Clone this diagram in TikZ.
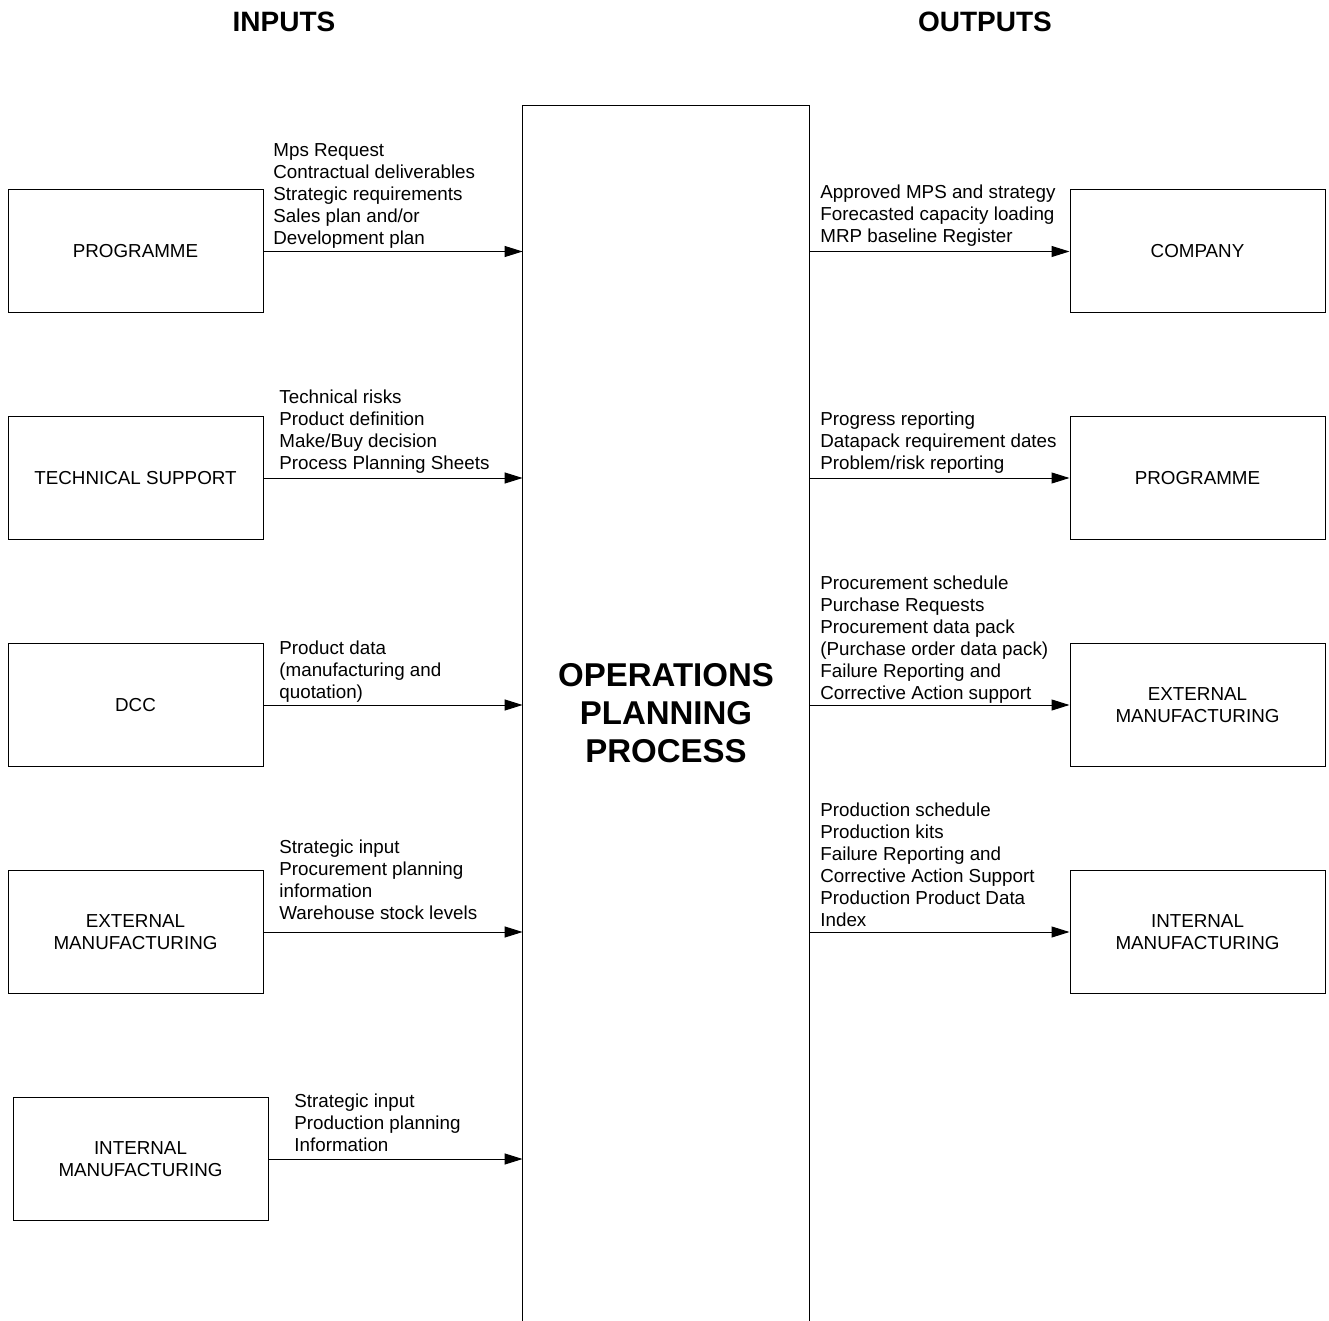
\documentclass[tikz,border=0pt]{standalone}
\usepackage{fontspec}
\setmainfont{Liberation Sans}
\usetikzlibrary{arrows.meta}
\begin{document}
\begin{tikzpicture}[x=0.5pt,y=-0.5pt,
 box/.style={draw, line width=0.5pt, minimum width=127.5pt, minimum height=61.5pt, align=center, font=\fontsize{9.4}{11}\selectfont, inner sep=0},
 lbl/.style={anchor=north west, align=left, inner sep=0, font=\fontsize{9.4}{11}\selectfont},
 flow/.style={line width=0.5pt, -{Triangle[length=9pt,width=5.5pt]}},
 ttl/.style={font=\fontsize{14}{16}\selectfont\bfseries, inner sep=0}]
\useasboundingbox (0,0) rectangle (1329,1321);
% titles
\node[ttl] (tin) at (284,22) {INPUTS};
\node[ttl] (tout) at (985,22) {OUTPUTS};
% central process
\node[minimum width=143pt, minimum height=607.5pt, inner sep=0, align=center, font=\fontsize{16.5}{19}\selectfont\bfseries] (cbox) at (666,713.5) {OPERATIONS\\PLANNING\\PROCESS};
\draw[line width=0.6pt] (cbox.south west) -- (cbox.north west) -- (cbox.north east) -- (cbox.south east);
% input boxes
\node[box] (l1) at (135.5,251.5) {PROGRAMME};
\node[box] (l2) at (135.5,478) {TECHNICAL SUPPORT};
\node[box] (l3) at (135.5,705) {DCC};
\node[box] (l4) at (135.5,932) {EXTERNAL\\MANUFACTURING};
\node[box] (l5) at (140.5,1159) {INTERNAL\\MANUFACTURING};
% output boxes
\node[box] (r1) at (1197.5,251.5) {COMPANY};
\node[box] (r2) at (1197.5,478) {PROGRAMME};
\node[box] (r3) at (1197.5,705) {EXTERNAL\\MANUFACTURING};
\node[box] (r4) at (1197.5,932) {INTERNAL\\MANUFACTURING};
% input arrows
\foreach \n in {l1,l2,l3,l4,l5}{
  \draw[flow] (\n.east) -- (\n.east -| cbox.west);
}
% output arrows
\foreach \n in {r1,r2,r3,r4}{
  \draw[flow] (\n.west -| cbox.east) -- (\n.west);
}
% input labels
\node[lbl] (t1) at (273,143) {Mps Request\\Contractual deliverables\\Strategic requirements\\Sales plan and/or\\Development plan};
\node[lbl] (t2) at (279,389) {Technical risks\\Product definition\\Make/Buy decision\\Process Planning Sheets};
\node[lbl] (t3) at (279,640) {Product data\\(manufacturing and\\quotation)};
\node[lbl] (t4) at (279,839) {Strategic input\\Procurement planning\\information\\Warehouse stock levels};
\node[lbl] (t5) at (294,1093) {Strategic input\\Production planning\\Information};
% output labels
\node[lbl] (u1) at (820,184) {Approved MPS and strategy\\Forecasted capacity loading\\MRP baseline Register};
\node[lbl] (u2) at (820,411) {Progress reporting\\Datapack requirement dates\\Problem/risk reporting};
\node[lbl] (u3) at (820,575) {Procurement schedule\\Purchase Requests\\Procurement data pack\\(Purchase order data pack)\\Failure Reporting and\\Corrective Action support};
\node[lbl] (u4) at (820,802) {Production schedule\\Production kits\\Failure Reporting and\\Corrective Action Support\\Production Product Data\\Index};
\end{tikzpicture}
\end{document}
